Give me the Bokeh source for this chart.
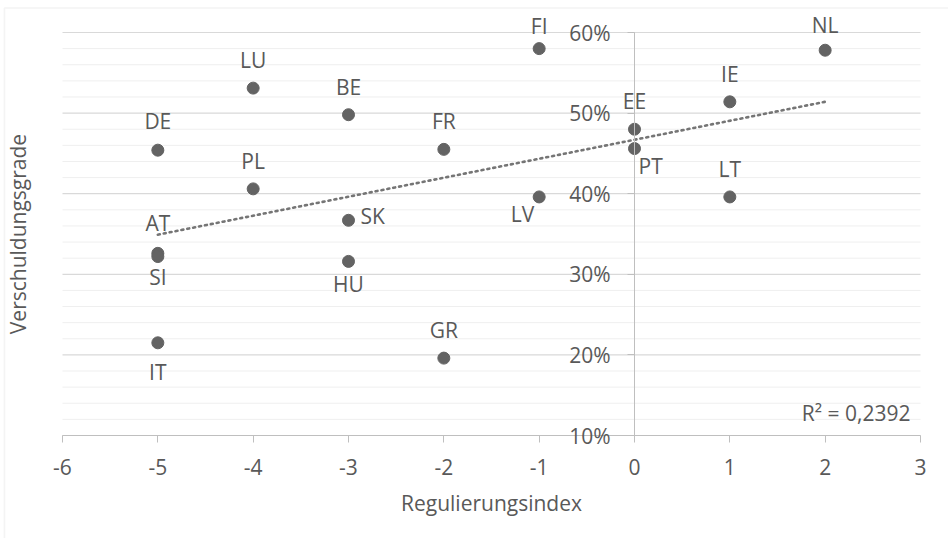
import numpy as np
from bokeh.plotting import figure
from bokeh.models import (ColumnDataSource, FixedTicker, NumeralTickFormatter,
                          LinearAxis, Range1d, Label, BoxAnnotation)
from bokeh.core.properties import value
from bokeh.embed import file_html
from bokeh.resources import INLINE

# ---- data ----
countries = ["FI", "NL", "LU", "IE", "BE", "EE", "DE", "FR", "PT",
             "PL", "LV", "LT", "SK", "AT", "SI", "HU", "IT", "GR"]
regulierungsindex = [-1, 2, -4, 1, -3, 0, -5, -2, 0,
                     -4, -1, 1, -3, -5, -5, -3, -5, -2]
verschuldungsgrad = [0.580, 0.578, 0.531, 0.514, 0.498, 0.480, 0.454, 0.455, 0.456,
                     0.406, 0.396, 0.396, 0.367, 0.326, 0.322, 0.316, 0.215, 0.196]
x_ticks = [-6, -5, -4, -3, -2, -1, 0, 1, 2, 3]
y_ticks = [0.1, 0.2, 0.3, 0.4, 0.5, 0.6]
y_minor = [0.12, 0.14, 0.16, 0.18, 0.22, 0.24, 0.26, 0.28, 0.32, 0.34, 0.36, 0.38,
           0.42, 0.44, 0.46, 0.48, 0.52, 0.54, 0.56, 0.58]
r2_text = "R² = 0,2392"

# ---- label placement (style) ----
label_style = {
    "FI": (0, -23, "center"), "NL": (0, -25, "center"), "LU": (0, -28, "center"),
    "IE": (0, -28, "center"), "BE": (0, -28, "center"), "EE": (0, -28, "center"),
    "DE": (0, -29, "center"), "FR": (0, -28, "center"), "PT": (4, 17, "left"),
    "PL": (0, -28, "center"), "LV": (-5, 17, "right"), "LT": (0, -28, "center"),
    "SK": (12, -4, "left"), "AT": (0, -30, "center"), "SI": (0, 20, "center"),
    "HU": (0, 23, "center"), "IT": (0, 29, "center"), "GR": (0, -28, "center"),
}

TXT = "#595959"
FONT = "Open Sans"
FS = "21px"

# ---- layout: plot area (pixels inside the 948x538 canvas) ----
W, H = 948, 538
PA_L, PA_R, PA_T, PA_B = 62, 920, 32, 435
X0, X1 = x_ticks[0], x_ticks[-1]
Y0, Y1 = y_ticks[0], y_ticks[-1]
ppx = (PA_R - PA_L) / (X1 - X0)
ppy = (PA_B - PA_T) / (Y1 - Y0)
x_start, x_end = X0 - PA_L / ppx, X1 + (W - PA_R) / ppx
y_start, y_end = Y0 - (H - PA_B) / ppy, Y1 + PA_T / ppy

src = ColumnDataSource(dict(
    x=regulierungsindex, y=verschuldungsgrad, t=countries,
    xo=[label_style[c][0] for c in countries],
    yo=[label_style[c][1] for c in countries],
    al=[label_style[c][2] for c in countries],
))

p = figure(width=W, height=H, output_backend="svg", toolbar_location=None,
           x_range=Range1d(x_start, x_end), y_range=Range1d(y_start, y_end),
           min_border=0, x_axis_location=None, y_axis_location=None)
p.outline_line_color = None
p.background_fill_color = "white"
p.border_fill_color = "white"
p.xgrid.visible = False
p.ygrid.visible = False

# outer chart border
p.add_layout(BoxAnnotation(left=x_start + 4 / ppx, right=x_end + 1,
                           top=y_end - 7.5 / ppy, bottom=y_start - 1,
                           fill_color=None, line_color="#d9d9d9", line_width=1.6))

# gridlines (plot area only)
p.segment(x0=X0, x1=X1, y0=y_minor, y1=y_minor, line_color="#efefef", line_width=1)
p.segment(x0=X0, x1=X1, y0=y_ticks, y1=y_ticks, line_color="#d9d9d9", line_width=1.2)

# y axis at x = 0
yax = LinearAxis(ticker=FixedTicker(ticks=y_ticks),
                 formatter=NumeralTickFormatter(format="0%"))
yax.fixed_location = 0
yax.bounds = (Y0, Y1)
yax.axis_line_color = "#bfbfbf"
yax.major_tick_line_color = "#bfbfbf"
yax.major_tick_out = 7
yax.major_tick_in = 0
yax.minor_tick_out = 0
yax.minor_tick_in = 0
yax.major_label_standoff = 17
yax.major_label_text_font = FONT
yax.major_label_text_font_size = FS
yax.major_label_text_color = TXT
p.add_layout(yax, "left")

# x axis at y = 10%
xax = LinearAxis(ticker=FixedTicker(ticks=x_ticks),
                 formatter=NumeralTickFormatter(format="0"),
                 axis_label="Regulierungsindex")
xax.fixed_location = Y0
xax.bounds = (X0, X1)
xax.axis_line_color = "#bfbfbf"
xax.major_tick_line_color = "#bfbfbf"
xax.major_tick_out = 7
xax.major_tick_in = 0
xax.minor_tick_out = 0
xax.minor_tick_in = 0
xax.major_label_standoff = 16
xax.major_label_text_font = FONT
xax.major_label_text_font_size = FS
xax.major_label_text_color = TXT
xax.axis_label_standoff = 11
xax.axis_label_text_font = FONT
xax.axis_label_text_font_size = FS
xax.axis_label_text_font_style = "normal"
xax.axis_label_text_color = TXT
p.add_layout(xax, "below")

# y axis title
p.add_layout(Label(x=x_start + 17 / ppx, y=(Y0 + Y1) / 2, text="Verschuldungsgrade",
                   angle=np.pi / 2, text_align="center", text_baseline="middle",
                   text_font=FONT, text_font_size=FS, text_color=TXT))

# trend line (least squares from data)
xs = np.array(regulierungsindex, dtype=float)
ys = np.array(verschuldungsgrad, dtype=float)
slope, intercept = np.polyfit(xs, ys, 1)
tx = np.array([xs.min(), xs.max()])
p.line(tx, slope * tx + intercept, line_color="#757575", line_width=2.6,
       line_dash="2 4", line_cap="round")

p.scatter("x", "y", source=src, size=12, fill_color="#636363", line_color="#636363")

p.text("x", "y", text="t", source=src, x_offset="xo", y_offset="yo",
       text_align="al", text_baseline="alphabetic",
       text_font=value(FONT), text_font_size=FS, text_color=TXT)

p.add_layout(Label(x=X1 - 10 / ppx, y=Y0 + 23 / ppy, text=r2_text, text_align="right",
                   text_baseline="alphabetic", text_font=FONT,
                   text_font_size=FS, text_color=TXT))

open("out.html", "w").write(file_html(p, INLINE))
